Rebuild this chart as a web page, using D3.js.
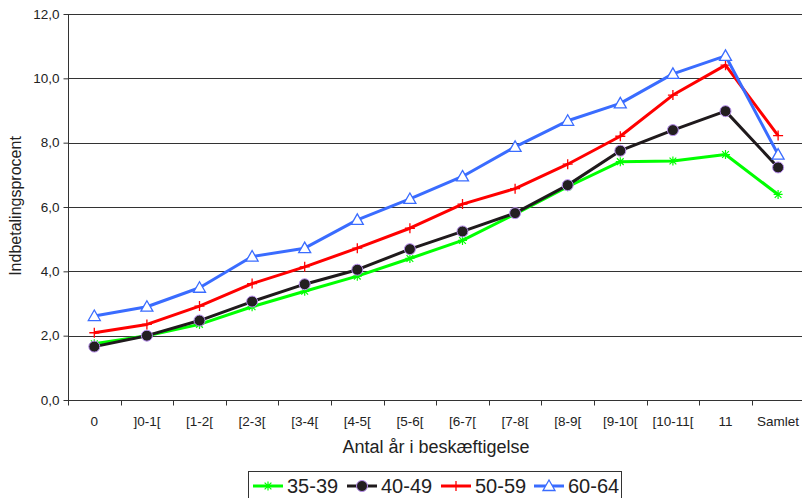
<!DOCTYPE html>
<html>
<head>
<meta charset="utf-8">
<script src="https://cdn.jsdelivr.net/npm/d3@7"></script>
<style>
body { margin: 0; background: #fff; }
svg { display: block; font-family: "Liberation Sans", Arial, sans-serif; }
</style>
</head>
<body>
<div id="chart"></div>
<script>
var svgWidth = 802;
var svgHeight = 498;

// categories and series
var categories = ["0", "]0-1[", "[1-2[", "[2-3[", "[3-4[", "[4-5[", "[5-6[", "[6-7[", "[7-8[", "[8-9[", "[9-10[", "[10-11[", "11", "Samlet"];
var age3539 = [1.75, 2.00, 2.35, 2.90, 3.38, 3.85, 4.40, 4.96, 5.78, 6.63, 7.41, 7.43, 7.63, 6.39];
var age4049 = [1.66, 2.00, 2.47, 3.06, 3.60, 4.05, 4.69, 5.24, 5.81, 6.68, 7.75, 8.39, 8.98, 7.23];
var age5059 = [2.09, 2.35, 2.92, 3.62, 4.14, 4.72, 5.34, 6.09, 6.57, 7.33, 8.20, 9.48, 10.41, 8.22];
var age6064 = [2.61, 2.90, 3.49, 4.46, 4.72, 5.60, 6.25, 6.95, 7.87, 8.68, 9.22, 10.14, 10.70, 7.63];
var yTicks = [0, 2, 4, 6, 8, 10, 12];
var seriesNames = ["35-39", "40-49", "50-59", "60-64"];

var series = [
    {name: seriesNames[0], values: age3539, color: "#00ff00", marker: "star"},
    {name: seriesNames[1], values: age4049, color: "#1f1a1c", marker: "circle"},
    {name: seriesNames[2], values: age5059, color: "#ff0000", marker: "plus"},
    {name: seriesNames[3], values: age6064, color: "#3a6cff", marker: "triangle"}
];

var plot = {left: 68, top: 14, bottom: 400, right: 802};

var svg = d3.select("#chart")
    .append("svg")
    .attr("width", svgWidth)
    .attr("height", svgHeight);

var xScale = d3.scaleBand()
    .domain(categories)
    .range([plot.left, plot.left + 14 * 52.6])
    .padding(0);

var yScale = d3.scaleLinear()
    .domain([0, 12])
    .range([plot.bottom, plot.top]);

var bw = xScale.bandwidth();
var cx = function(i) { return xScale(categories[i]) + bw / 2; };

// gridlines
svg.append("g").selectAll("line")
    .data(yTicks.filter(d => d > 0))
    .enter()
    .append("line")
    .attr("x1", plot.left)
    .attr("x2", plot.right)
    .attr("y1", d => Math.round(yScale(d)) + 0.5)
    .attr("y2", d => Math.round(yScale(d)) + 0.5)
    .attr("stroke", "#333")
    .attr("stroke-width", 1);

// y axis
var leftAxis = d3.axisLeft(yScale)
    .tickValues(yTicks)
    .tickSize(5)
    .tickPadding(4)
    .tickFormat(d => d3.format(".1f")(d).replace(".", ","));

var yAxisG = svg.append("g")
    .attr("transform", `translate(${plot.left + 0.5}, 0)`)
    .call(leftAxis);
yAxisG.select(".domain").attr("d", `M0,${plot.top}V${plot.bottom}`).attr("stroke", "#333");
yAxisG.selectAll(".tick line").attr("stroke", "#333");
yAxisG.selectAll("text").attr("font-size", "13.5px").attr("fill", "#222").attr("font-family", null);

// x axis
var bottomAxis = d3.axisBottom(xScale).tickSize(0).tickPadding(15.5);
var xAxisG = svg.append("g")
    .attr("transform", `translate(0, ${plot.bottom + 0.5})`)
    .call(bottomAxis);
xAxisG.select(".domain").attr("d", `M${plot.left},0H${plot.right}`).attr("stroke", "#333");
xAxisG.selectAll("text").attr("font-size", "13.5px").attr("fill", "#222").attr("font-family", null);

xAxisG.selectAll(".bound")
    .data(categories)
    .enter()
    .append("line")
    .attr("class", "bound")
    .attr("x1", d => Math.round(xScale(d)) + 0.5)
    .attr("x2", d => Math.round(xScale(d)) + 0.5)
    .attr("y1", 0)
    .attr("y2", 5)
    .attr("stroke", "#333");

// axis titles
svg.append("text")
    .attr("x", 436)
    .attr("y", 453)
    .attr("text-anchor", "middle")
    .attr("font-size", "18px")
    .attr("fill", "#222")
    .text("Antal år i beskæftigelse");

svg.append("text")
    .attr("transform", "translate(21, 206) rotate(-90)")
    .attr("text-anchor", "middle")
    .attr("font-size", "16px")
    .attr("fill", "#222")
    .text("Indbetalingsprocent");

// markers
function drawMarker(g, type, color, x, y) {
    if (type === "star") {
        var s = 4.5;
        g.append("path")
            .attr("d", `M${x - s},${y}H${x + s}M${x},${y - s}V${y + s}M${x - s * 0.75},${y - s * 0.75}L${x + s * 0.75},${y + s * 0.75}M${x - s * 0.75},${y + s * 0.75}L${x + s * 0.75},${y - s * 0.75}`)
            .attr("stroke", color)
            .attr("stroke-width", 1.2)
            .attr("fill", "none");
    } else if (type === "circle") {
        g.append("circle")
            .attr("cx", x)
            .attr("cy", y)
            .attr("r", 5.5)
            .attr("fill", "#231f20")
            .attr("stroke", "#b98ff0")
            .attr("stroke-width", 1);
    } else if (type === "plus") {
        var p = 5;
        g.append("path")
            .attr("d", `M${x - p},${y}H${x + p}M${x},${y - p}V${y + p}`)
            .attr("stroke", color)
            .attr("stroke-width", 1.3)
            .attr("fill", "none");
    } else {
        var t = 6;
        g.append("path")
            .attr("d", `M${x},${y - t}L${x + t},${y + t * 0.75}L${x - t},${y + t * 0.75}Z`)
            .attr("stroke", color)
            .attr("stroke-width", 1.3)
            .attr("fill", "#fff");
    }
}

var line = d3.line()
    .x((d, i) => cx(i))
    .y(d => yScale(d));

series.forEach(function(s) {
    var g = svg.append("g");
    g.append("path")
        .datum(s.values)
        .attr("d", line)
        .attr("fill", "none")
        .attr("stroke", s.color)
        .attr("stroke-width", 3)
        .attr("stroke-linejoin", "round");
    s.values.forEach(function(v, i) {
        drawMarker(g, s.marker, s.color, cx(i), yScale(v));
    });
});

// legend
var legend = svg.append("g");
legend.append("rect")
    .attr("x", 248.5)
    .attr("y", 471.5)
    .attr("width", 373)
    .attr("height", 40)
    .attr("fill", "#fff")
    .attr("stroke", "#333")
    .attr("stroke-width", 1);

var legendX = [253, 347, 441, 534];
series.forEach(function(s, i) {
    var lx = legendX[i];
    legend.append("line")
        .attr("x1", lx)
        .attr("x2", lx + 30)
        .attr("y1", 486)
        .attr("y2", 486)
        .attr("stroke", s.color)
        .attr("stroke-width", 3);
    drawMarker(legend, s.marker, s.color, lx + 15, 486);
    legend.append("text")
        .attr("x", lx + 34)
        .attr("y", 493)
        .attr("font-size", "20px")
        .attr("fill", "#222")
        .text(s.name);
});
</script>
</body>
</html>
